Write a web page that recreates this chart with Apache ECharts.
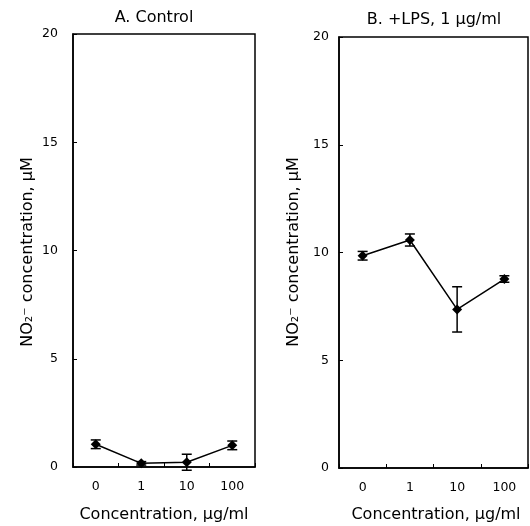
<!DOCTYPE html>
<html>
<head>
<meta charset="utf-8">
<script src="https://cdn.jsdelivr.net/npm/echarts@6/dist/echarts.min.js"></script>
<style>html,body{margin:0;padding:0;background:#fff}#c{width:530px;height:526px}</style>
</head>
<body>
<div id="c"></div>
<script>
const categories = ['0', '1', '10', '100'];
const yTicks = [0, 5, 10, 15, 20];
const controlMean = [1.05, 0.17, 0.22, 1.0];
const controlErr = [0.2, 0.08, 0.37, 0.2];
const lpsMean = [9.85, 10.58, 7.36, 8.77];
const lpsErr = [0.2, 0.28, 1.05, 0.15];
const titles = ['A. Control', 'B. +LPS, 1 µg/ml'];
const xTitle = 'Concentration, µg/ml';
const yTitle = 'NO₂⁻ concentration, µM';

const FONT = 'DejaVu Sans';
const chart = echarts.init(document.getElementById('c'));

function errSeries(idx, mean, err) {
  return {
    type: 'custom', xAxisIndex: idx, yAxisIndex: idx, z: 3,
    data: mean.map((m, i) => [i, m - err[i], m + err[i]]),
    renderItem: function (params, api) {
      const x = api.value(0);
      const lo = api.coord([x, Math.max(api.value(1), -0.15)]);
      const hi = api.coord([x, api.value(2)]);
      const w = 5;
      const st = { stroke: '#000', lineWidth: 1.5 };
      return { type: 'group', children: [
        { type: 'line', shape: { x1: lo[0], y1: lo[1], x2: hi[0], y2: hi[1] }, style: st },
        { type: 'line', shape: { x1: hi[0] - w, y1: hi[1], x2: hi[0] + w, y2: hi[1] }, style: st },
        { type: 'line', shape: { x1: lo[0] - w, y1: lo[1], x2: lo[0] + w, y2: lo[1] }, style: st }
      ]};
    }
  };
}

function xAxis(idx) {
  return {
    type: 'category', gridIndex: idx, data: categories, boundaryGap: true,
    axisLine: { show: true, lineStyle: { color: '#000', width: 1.5 } },
    axisTick: { show: true, inside: true, length: 4, lineStyle: { color: '#000', width: 1 } },
    axisLabel: { color: '#000', fontFamily: FONT, fontSize: 12.5, margin: 13 },
    splitLine: { show: false }
  };
}
function yAxis(idx) {
  return {
    type: 'value', gridIndex: idx, min: 0, max: 20, interval: 5,
    axisLine: { show: true, lineStyle: { color: '#000', width: 1.5 } },
    axisTick: { show: true, inside: true, length: 4, lineStyle: { color: '#000', width: 1 } },
    axisLabel: { color: '#000', fontFamily: FONT, fontSize: 12.5, margin: idx === 0 ? 15 : 10,
      formatter: v => yTicks.includes(v) ? String(v) : '' },
    splitLine: { show: false }
  };
}
function text(x, y, s, size, rot) {
  return { type: 'text', x: x, y: y, rotation: rot || 0,
    style: { text: s, fill: '#000', font: size + 'px "' + FONT + '"', textAlign: 'center', textVerticalAlign: 'middle' } };
}

chart.setOption({
  backgroundColor: '#fff',
  animation: false,
  grid: [
    { left: 73, top: 34, width: 182, height: 433, show: true, borderColor: '#000', borderWidth: 1.5 },
    { left: 339, top: 37, width: 189, height: 431, show: true, borderColor: '#000', borderWidth: 1.5 }
  ],
  xAxis: [xAxis(0), xAxis(1)],
  yAxis: [yAxis(0), yAxis(1)],
  series: [
    { type: 'line', xAxisIndex: 0, yAxisIndex: 0, data: controlMean, symbol: 'diamond', symbolSize: 10,
      lineStyle: { color: '#000', width: 1.5 }, itemStyle: { color: '#000' }, z: 4 },
    errSeries(0, controlMean, controlErr),
    { type: 'line', xAxisIndex: 1, yAxisIndex: 1, data: lpsMean, symbol: 'diamond', symbolSize: 10,
      lineStyle: { color: '#000', width: 1.5 }, itemStyle: { color: '#000' }, z: 4 },
    errSeries(1, lpsMean, lpsErr)
  ],
  graphic: [
    text(154, 18, titles[0], 16),
    text(434, 20, titles[1], 16),
    text(164, 515, xTitle, 16),
    text(436, 515, xTitle, 16),
    text(28, 252, yTitle, 16, Math.PI / 2),
    text(294, 252, yTitle, 16, Math.PI / 2)
  ]
});
</script>
</body>
</html>
